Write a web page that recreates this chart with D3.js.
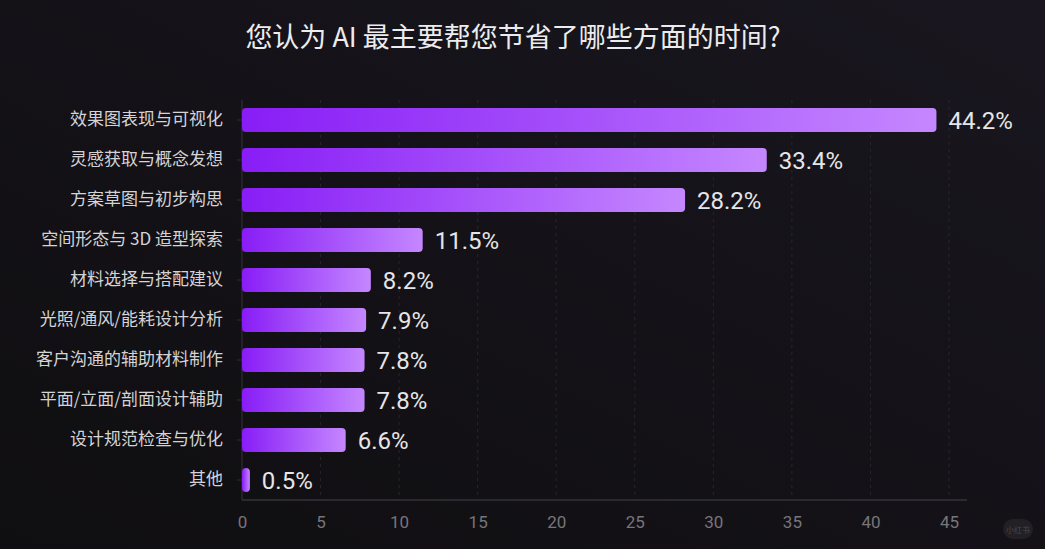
<!DOCTYPE html>
<html lang="zh">
<head>
  <meta charset="UTF-8" />
  <title>d3</title>
  <style>
    body { margin: 0; background: #141217; }
    #container { width: 1045px; height: 549px; }
    text { font-family: "Noto Sans CJK SC", "Noto Sans", sans-serif; }
  </style>
</head>
<body>
  <div id="container"></div>
  <script src="https://cdn.jsdelivr.net/npm/d3@7/dist/d3.min.js"></script>
  <script>
    const title = '您认为 AI 最主要帮您节省了哪些方面的时间?';
    const categories = ['效果图表现与可视化', '灵感获取与概念发想', '方案草图与初步构思', '空间形态与 3D 造型探索',
      '材料选择与搭配建议', '光照/通风/能耗设计分析', '客户沟通的辅助材料制作', '平面/立面/剖面设计辅助',
      '设计规范检查与优化', '其他'];
    const values = [44.2, 33.4, 28.2, 11.5, 8.2, 7.9, 7.8, 7.8, 6.6, 0.5];
    const xTicks = [0, 5, 10, 15, 20, 25, 30, 35, 40, 45];

    const W = 1045, H = 549;
    const margin = { top: 100, right: 78, bottom: 49, left: 242 };

    const svg = d3.select('#container').append('svg').attr('width', W).attr('height', H);
    const defs = svg.append('defs');

    const bg = defs.append('linearGradient').attr('id', 'bg')
      .attr('x1', 0).attr('y1', 1).attr('x2', 1).attr('y2', 0);
    bg.append('stop').attr('offset', 0).attr('stop-color', '#0f0e10');
    bg.append('stop').attr('offset', 1).attr('stop-color', '#19161f');
    svg.append('rect').attr('width', W).attr('height', H).attr('fill', 'url(#bg)');

    const grad = defs.append('linearGradient').attr('id', 'barGrad')
      .attr('x1', 0).attr('y1', 0).attr('x2', 1).attr('y2', 0);
    grad.append('stop').attr('offset', 0).attr('stop-color', '#881df6');
    grad.append('stop').attr('offset', 1).attr('stop-color', '#c587ff');

    const x = d3.scaleLinear().domain([0, 45]).range([margin.left, 949]);
    const y = d3.scaleBand().domain(categories).range([margin.top, 500]).paddingInner(0.4).paddingOuter(0.2);

    svg.append('text')
      .attr('x', 513).attr('y', 47)
      .attr('text-anchor', 'middle')
      .attr('fill', '#ececee')
      .attr('font-size', 27)
      .text(title);

    // grid
    svg.append('g').selectAll('line').data(xTicks.slice(1)).enter().append('line')
      .attr('x1', d => x(d)).attr('x2', d => x(d))
      .attr('y1', margin.top).attr('y2', 500)
      .attr('stroke', '#28262c').attr('stroke-dasharray', '3,4');

    // x axis
    const xAxis = svg.append('g').attr('transform', 'translate(0,500)')
      .call(d3.axisBottom(x).tickValues(xTicks).tickSize(0).tickPadding(16));
    xAxis.select('.domain').remove();
    xAxis.append('line').attr('x1', x(0)).attr('x2', 967).attr('stroke', '#34323a').attr('stroke-width', 1.5);
    xAxis.selectAll('.tick text')
      .attr('fill', '#77757c').attr('font-size', 17)
      .style('font-family', 'Roboto, sans-serif');

    // y axis
    const yAxis = svg.append('g').attr('transform', `translate(${x(0)},0)`)
      .call(d3.axisLeft(y).tickSize(5).tickPadding(14));
    yAxis.select('.domain').attr('stroke', '#34323a').attr('d', `M0,${margin.top}V500`);
    yAxis.selectAll('.tick line').attr('stroke', '#2e2c33');
    yAxis.selectAll('.tick text').attr('fill', '#d4d3d6').attr('font-size', 17);

    // bars
    svg.append('g').selectAll('rect').data(values).enter().append('rect')
      .attr('x', x(0))
      .attr('y', (d, i) => y(categories[i]))
      .attr('width', d => x(d) - x(0))
      .attr('height', y.bandwidth())
      .attr('rx', 4)
      .attr('fill', 'url(#barGrad)');

    svg.append('g').selectAll('text').data(values).enter().append('text')
      .attr('x', d => x(d) + 12)
      .attr('y', (d, i) => y(categories[i]) + y.bandwidth() / 2)
      .attr('dy', '0.36em')
      .attr('fill', '#e6e5e8')
      .attr('font-size', 24)
      .style('font-family', 'Roboto, sans-serif')
      .text(d => d.toFixed(1) + '%');

    // watermark
    svg.append('rect').attr('x', 1003).attr('y', 519).attr('width', 30).attr('height', 20).attr('rx', 10).attr('fill', '#222025');
    svg.append('text').attr('x', 1018).attr('y', 533).attr('text-anchor', 'middle')
      .attr('fill', '#4a484e').attr('font-size', 8).text('小红书');
  </script>
</body>
</html>
